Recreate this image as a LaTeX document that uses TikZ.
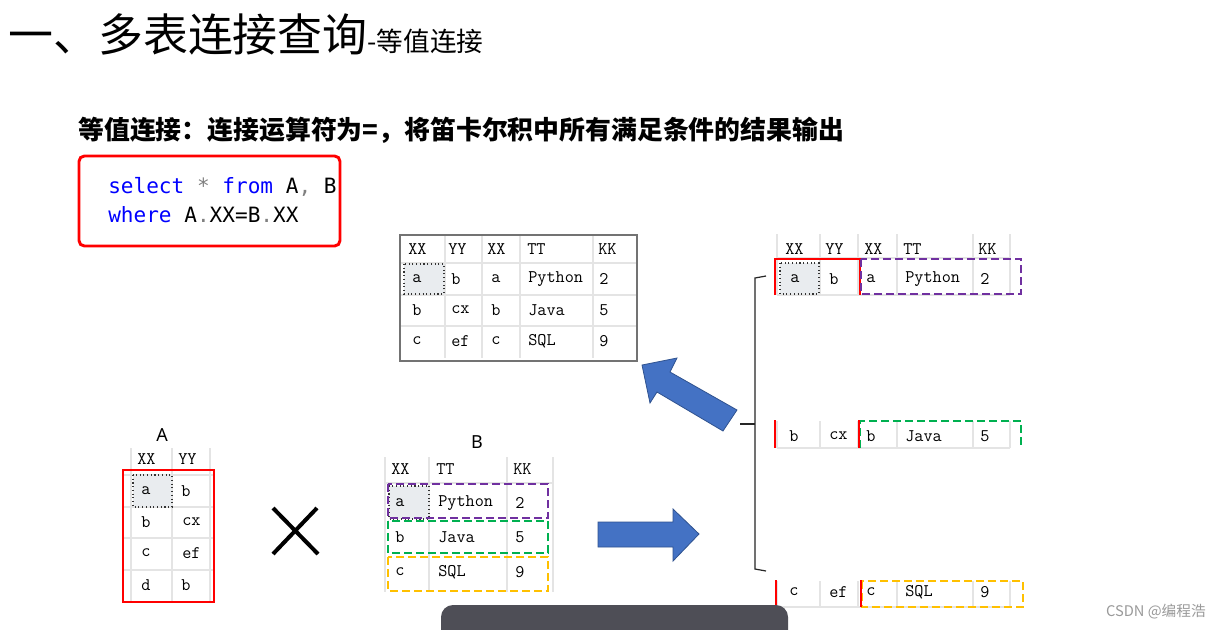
\documentclass[tikz,border=0pt]{standalone}
\usepackage{fontspec}
\newfontfamily\cjk{Noto Sans CJK SC}
\newfontfamily\codefont{DejaVu Sans Mono}
\newfontfamily\labelfont{Noto Sans}
\definecolor{hlred}{HTML}{FF0000}
\definecolor{hlpurple}{HTML}{7030A0}
\definecolor{hlgreen}{HTML}{00B050}
\definecolor{hlorange}{HTML}{FFC000}
\definecolor{arrowblue}{HTML}{4472C4}
\definecolor{arrowedge}{HTML}{2F528F}
\definecolor{cellgray}{HTML}{E9ECEF}
\definecolor{gridgray}{HTML}{E4E4E4}
\definecolor{barcolor}{HTML}{4E4E56}
\definecolor{kwblue}{HTML}{0000FF}
\definecolor{wmgray}{HTML}{9A9A9A}
\tikzset{
  cell/.style={anchor=west, inner sep=0pt, font=\fontsize{13.3}{13.3}\selectfont\ttfamily},
  gridline/.style={draw=gridgray, line width=0.8pt},
  selcell/.style={fill=cellgray, draw=black!80, dotted, line width=0.8pt},
  redbox/.style={draw=hlred, line width=2.2pt},
  dashbox/.style={dashed, dash pattern=on 6pt off 3pt, line width=2.2pt},
  bigarrow/.style={fill=arrowblue, draw=arrowedge, line width=0.6pt},
  tlabel/.style={font=\labelfont\fontsize{13.5}{13.5}\selectfont, inner sep=0pt},
}
\begin{document}
\begin{tikzpicture}[x=0.75pt,y=-0.75pt]
\useasboundingbox (0,0) rectangle (1220,629);
\fill[white] (0,0) rectangle (1220,629);

% title
\node[anchor=base west, inner sep=0pt] (title) at (8,51)
  {\cjk\fontsize{33.7}{33.7}\selectfont 一、多表连接查询{\fontsize{20}{20}\selectfont -等值连接}};
\node[anchor=west, inner sep=0pt] (subtitle) at (78,130)
  {\cjk\bfseries\fontsize{19.4}{19.4}\selectfont 等值连接：连接运算符为=，将笛卡尔积中所有满足条件的结果输出};

% code box
\draw[redbox, rounded corners=4pt] (79,156) rectangle (340,246);
\node[anchor=west, inner sep=0pt, font=\codefont\fontsize{15.8}{15.8}\selectfont] (code1) at (108,187)
  {\textcolor{kwblue}{select} \textcolor{gray}{*} \textcolor{kwblue}{from} A\textcolor{gray}{,} B};
\node[anchor=west, inner sep=0pt, font=\codefont\fontsize{15.8}{15.8}\selectfont] (code2) at (108,215)
  {\textcolor{kwblue}{where} A\textcolor{gray}{.}XX=B\textcolor{gray}{.}XX};

% ===== middle result table =====
\foreach \x in {445,482,520,593} \draw[gridline] (\x,236) -- (\x,358);
\foreach \y in {263,295,326} \draw[gridline] (401,\y) -- (636,\y);
\draw[selcell] (404,264) rectangle (444,294);
\draw[draw=black!55, line width=1.3pt] (400,235) rectangle (637,361);
\node[cell] (m00) at (408,249) {XX};
\node[cell] (m01) at (448,249) {YY};
\node[cell] (m02) at (487,249) {XX};
\node[cell] (m03) at (527,249) {TT};
\node[cell] (m04) at (598,249) {KK};
\node[cell] (m10) at (412,279) {a};
\node[cell] (m11) at (451,279) {b};
\node[cell] (m12) at (491,279) {a};
\node[cell] (m13) at (528,279) {Python};
\node[cell] (m14) at (599,279) {2};
\node[cell] (m20) at (412,310) {b};
\node[cell] (m21) at (451,310) {cx};
\node[cell] (m22) at (491,310) {b};
\node[cell] (m23) at (528,310) {Java};
\node[cell] (m24) at (599,310) {5};
\node[cell] (m30) at (412,341) {c};
\node[cell] (m31) at (451,341) {ef};
\node[cell] (m32) at (491,341) {c};
\node[cell] (m33) at (528,341) {SQL};
\node[cell] (m34) at (599,341) {9};

% ===== right side rows =====
\foreach \x in {777,820,858,897,973,1010} {
  \draw[gridline] (\x,234) -- (\x,295);
  \draw[gridline] (\x,421) -- (\x,448);
  \draw[gridline] (\x,581) -- (\x,607);
}
\draw[gridline] (777,258) -- (1010,258);
\draw[gridline] (777,295) -- (1010,295);
\draw[gridline] (777,448) -- (1010,448);
\draw[gridline] (777,607) -- (1010,607);
\draw[selcell] (780,263) rectangle (819,294);
\node[cell] (r00) at (785,249) {XX};
\node[cell] (r01) at (825,249) {YY};
\node[cell] (r02) at (864,249) {XX};
\node[cell] (r03) at (903,249) {TT};
\node[cell] (r04) at (978,249) {KK};
\node[cell] (r10) at (790,279) {a};
\node[cell] (r11) at (829,279) {b};
\node[cell] (r12) at (866,279) {a};
\node[cell] (r13) at (905,279) {Python};
\node[cell] (r14) at (980,279) {2};
\node[cell] (r20) at (789,436) {b};
\node[cell] (r21) at (829,436) {cx};
\node[cell] (r22) at (866,436) {b};
\node[cell] (r23) at (905,436) {Java};
\node[cell] (r24) at (980,436) {5};
\node[cell] (r30) at (789,592) {c};
\node[cell] (r31) at (829,592) {ef};
\node[cell] (r32) at (866,592) {c};
\node[cell] (r33) at (905,592) {SQL};
\node[cell] (r34) at (980,592) {9};
% highlights
\draw[redbox] (775,295) -- (775,259) -- (860,259) -- (860,295);
\draw[dashbox, draw=hlpurple] (861,259) rectangle (1021,294);
\draw[dashbox, draw=hlgreen] (860,448) -- (860,421) -- (1021,421) -- (1021,448);
\draw[redbox] (775,420) -- (775,448);
\draw[redbox] (859,420) -- (859,448);
\draw[dashbox, draw=hlorange] (862,581) rectangle (1023,607);
\draw[redbox] (776,580) -- (776,607);
\draw[redbox] (861,580) -- (861,607);

% bracket
\coordinate (brtop) at (766,276);
\coordinate (brbot) at (766,571);
\coordinate (brmid) at (740,424);
\draw[line width=0.9pt, black!85] (brtop) -- (755,278) -- (755,569) -- (brbot);
\draw[line width=0.9pt, black!85] (brmid) -- (755,424);

% arrows
\draw[bigarrow] (642,365) -- (677,358) -- (670,372) -- (737,410) -- (723,431) -- (657,392) -- (650,403) -- cycle;
\draw[bigarrow] (598,522) -- (673,522) -- (673,509) -- (699,534) -- (673,561) -- (673,547) -- (598,547) -- cycle;

% ===== table A =====
\node[tlabel] (labA) at (162,435) {A};
\foreach \x in {131,172,210} \draw[gridline] (\x,448) -- (\x,602);
\foreach \y in {475,507,538,570} \draw[gridline] (124,\y) -- (213,\y);
\draw[selcell] (133,475) rectangle (172,507);
\node[cell] (a00) at (137,459) {XX};
\node[cell] (a01) at (178,459) {YY};
\node[cell] (a10) at (141,491) {a};
\node[cell] (a11) at (181,491) {b};
\node[cell] (a20) at (141,522) {b};
\node[cell] (a21) at (182,522) {cx};
\node[cell] (a30) at (141,553) {c};
\node[cell] (a31) at (182,553) {ef};
\node[cell] (a40) at (141,585) {d};
\node[cell] (a41) at (181,585) {b};
\draw[redbox] (123,470) rectangle (214,602);

% cross
\coordinate (x1) at (273,508);
\coordinate (x2) at (318,554);
\coordinate (x3) at (317,508);
\coordinate (x4) at (273,554);
\draw[line width=3pt] (x1) -- (x2);
\draw[line width=3pt] (x3) -- (x4);

% ===== table B =====
\node[tlabel] (labB) at (477,442) {B};
\foreach \x in {385,429,507,553} \draw[gridline] (\x,457) -- (\x,592);
\foreach \y in {483} \draw[gridline] (385,\y) -- (553,\y);
\draw[selcell] (389,486) rectangle (429,519);
\node[cell] (b00) at (391,469) {XX};
\node[cell] (b01) at (436,469) {TT};
\node[cell] (b02) at (513,469) {KK};
\node[cell] (b10) at (395,503) {a};
\node[cell] (b11) at (438,503) {Python};
\node[cell] (b12) at (515,503) {2};
\node[cell] (b20) at (395,537) {b};
\node[cell] (b21) at (438,537) {Java};
\node[cell] (b22) at (515,537) {5};
\node[cell] (b30) at (395,572) {c};
\node[cell] (b31) at (438,572) {SQL};
\node[cell] (b32) at (515,572) {9};
\draw[dashbox, draw=hlpurple] (388,484) rectangle (548,518);
\draw[dashbox, draw=hlgreen] (388,521) rectangle (548,553);
\draw[dashbox, draw=hlorange] (388,557) rectangle (548,591);

% dark bar
\fill[barcolor, rounded corners=9pt] (441,605) rectangle (788,645);

% watermark
\node[anchor=east, inner sep=0pt, text=wmgray, font=\cjk\fontsize{11}{11}\selectfont] (wm) at (1206,612) {CSDN @编程浩};
\end{tikzpicture}
\end{document}
